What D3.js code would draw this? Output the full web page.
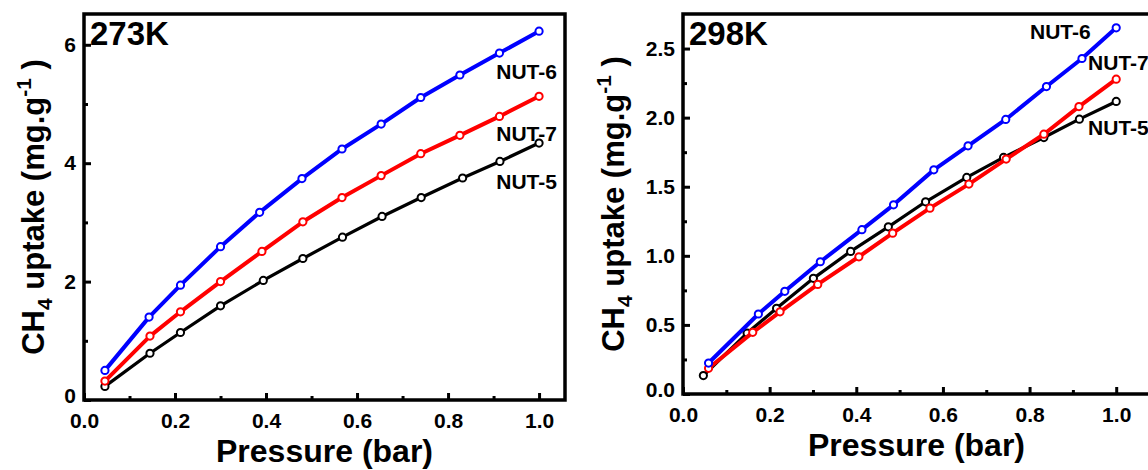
<!DOCTYPE html>
<html>
<head>
<meta charset="utf-8">
<script src="https://cdn.jsdelivr.net/npm/d3@7"></script>
<style>
  body { margin: 0; background: #fff; }
  text { font-family: "Liberation Sans", Arial, sans-serif; font-weight: bold; fill: #000; }
</style>
</head>
<body>
<script>
// 273K isotherms
var p273_nut6 = [0.046, 0.143, 0.212, 0.300, 0.386, 0.479, 0.567, 0.653, 0.740, 0.826, 0.913, 1.0]
var u273_nut6 = [0.50, 1.40, 1.94, 2.59, 3.17, 3.74, 4.24, 4.66, 5.11, 5.49, 5.86, 6.23]
var p273_nut7 = [0.046, 0.145, 0.212, 0.300, 0.391, 0.481, 0.567, 0.653, 0.740, 0.826, 0.913, 1.0]
var u273_nut7 = [0.32, 1.08, 1.49, 2.00, 2.51, 3.01, 3.42, 3.79, 4.16, 4.47, 4.79, 5.13]
var p273_nut5 = [0.046, 0.145, 0.212, 0.300, 0.394, 0.481, 0.568, 0.655, 0.741, 0.832, 0.914, 1.0]
var u273_nut5 = [0.23, 0.79, 1.14, 1.59, 2.02, 2.39, 2.75, 3.10, 3.42, 3.75, 4.03, 4.34]

// 298K isotherms
var p298_nut6 = [0.059, 0.174, 0.235, 0.317, 0.413, 0.486, 0.579, 0.658, 0.745, 0.839, 0.921, 1.0]
var u298_nut6 = [0.224, 0.579, 0.743, 0.957, 1.189, 1.369, 1.622, 1.796, 1.987, 2.225, 2.428, 2.65]
var p298_nut7 = [0.059, 0.161, 0.224, 0.311, 0.406, 0.484, 0.570, 0.660, 0.746, 0.833, 0.914, 1.0]
var u298_nut7 = [0.186, 0.446, 0.595, 0.793, 0.993, 1.164, 1.345, 1.519, 1.700, 1.880, 2.080, 2.278]
var p298_nut5 = [0.047, 0.148, 0.216, 0.301, 0.387, 0.474, 0.560, 0.655, 0.740, 0.833, 0.915, 1.0]
var u298_nut5 = [0.133, 0.441, 0.620, 0.837, 1.032, 1.210, 1.391, 1.567, 1.712, 1.856, 1.989, 2.117]

var seriesNames = ["NUT-5", "NUT-7", "NUT-6"]
var seriesColors = {"NUT-5": "#000000", "NUT-7": "#ff0000", "NUT-6": "#0000ff"}

var xTicks = [0, 0.2, 0.4, 0.6, 0.8, 1.0]
var xMinor = [0.1, 0.3, 0.5, 0.7, 0.9]
var yTicks273 = [0, 2, 4, 6]
var yMinor273 = [1, 3, 5]
var yTicks298 = [0, 0.5, 1.0, 1.5, 2.0, 2.5]
var yMinor298 = [0.25, 0.75, 1.25, 1.75, 2.25]

function zip (xs, ys) {
  return xs.map((x, i) => ({p: x, u: ys[i]}))
}

var panels = [
  {
    title: "273K",
    left: 84, right: 565, top: 14, bottom: 400,
    xMax: 1.057, yMax: 6.52,
    yTicks: yTicks273, yMinor: yMinor273, yFormat: d3.format("d"),
    titleX: 32,
    series: {
      "NUT-5": zip(p273_nut5, u273_nut5),
      "NUT-7": zip(p273_nut7, u273_nut7),
      "NUT-6": zip(p273_nut6, u273_nut6)
    },
    labels: [
      {name: "NUT-6", p: 0.906, u: 5.43},
      {name: "NUT-7", p: 0.906, u: 4.38},
      {name: "NUT-5", p: 0.906, u: 3.56}
    ]
  },
  {
    title: "298K",
    left: 683, right: 1150, top: 14, bottom: 394,
    xMax: 1.078, yMax: 2.75,
    yTicks: yTicks298, yMinor: yMinor298, yFormat: d3.format(".1f"),
    titleX: 612,
    series: {
      "NUT-5": zip(p298_nut5, u298_nut5),
      "NUT-7": zip(p298_nut7, u298_nut7),
      "NUT-6": zip(p298_nut6, u298_nut6)
    },
    labels: [
      {name: "NUT-6", p: 0.801, u: 2.57},
      {name: "NUT-7", p: 0.935, u: 2.344},
      {name: "NUT-5", p: 0.935, u: 1.873}
    ]
  }
]

var svg = d3.select("body")
            .append("svg")
            .attr("width", 1148)
            .attr("height", 470)

panels.forEach(drawPanel)

function drawPanel (cfg) {
  var x = d3.scaleLinear().domain([0, cfg.xMax]).range([cfg.left, cfg.right])
  var y = d3.scaleLinear().domain([0, cfg.yMax]).range([cfg.bottom, cfg.top])
  var g = svg.append("g")

  // minor ticks
  g.append("g")
   .attr("transform", "translate(0," + cfg.bottom + ")")
   .call(d3.axisBottom(x).tickValues(xMinor).tickSize(-4).tickFormat(""))
  g.append("g")
   .attr("transform", "translate(" + cfg.left + ",0)")
   .call(d3.axisLeft(y).tickValues(cfg.yMinor).tickSize(-4).tickFormat(""))

  // major ticks
  g.append("g")
   .attr("class", "xaxis")
   .attr("transform", "translate(0," + cfg.bottom + ")")
   .call(d3.axisBottom(x).tickValues(xTicks).tickSize(-7).tickPadding(13).tickFormat(d3.format(".1f")))
  g.append("g")
   .attr("class", "yaxis")
   .attr("transform", "translate(" + cfg.left + ",0)")
   .call(d3.axisLeft(y).tickValues(cfg.yTicks).tickSize(-7).tickPadding(8).tickFormat(cfg.yFormat))

  g.selectAll(".domain").remove()
  g.selectAll(".tick line").attr("stroke", "#000").attr("stroke-width", 3)
  g.selectAll(".tick text")
   .style("font-family", "'Liberation Sans', Arial, sans-serif")
   .style("font-weight", "bold")
   .style("font-size", "21px")
   .attr("fill", "#000")
  // nudge the zero label up so it clears the x labels
  g.selectAll(".yaxis .tick text").filter(d => d === 0).attr("dy", "0.1em")

  // frame
  g.append("rect")
   .attr("x", cfg.left)
   .attr("y", cfg.top)
   .attr("width", cfg.right - cfg.left)
   .attr("height", cfg.bottom - cfg.top)
   .attr("fill", "none")
   .attr("stroke", "#000")
   .attr("stroke-width", 3.5)

  var line = d3.line().x(d => x(d.p)).y(d => y(d.u))

  seriesNames.forEach(function (name) {
    var data = cfg.series[name]
    var color = seriesColors[name]
    g.append("path")
     .datum(data)
     .attr("d", line)
     .attr("fill", "none")
     .attr("stroke", color)
     .attr("stroke-width", name === "NUT-5" ? 3.2 : 4)
     .attr("stroke-linejoin", "round")
    g.selectAll(".pt-" + name)
     .data(data)
     .enter()
     .append("circle")
     .attr("class", "pt-" + name)
     .attr("cx", d => x(d.p))
     .attr("cy", d => y(d.u))
     .attr("r", 3.6)
     .attr("fill", "#fff")
     .attr("stroke", color)
     .attr("stroke-width", 2)
  })

  g.selectAll(".lab")
   .data(cfg.labels)
   .enter()
   .append("text")
   .attr("class", "lab")
   .attr("x", d => x(d.p))
   .attr("y", d => y(d.u))
   .style("font-size", "21px")
   .text(d => d.name)

  g.append("text")
   .attr("x", cfg.left + 6)
   .attr("y", 45)
   .style("font-size", "33px")
   .text(cfg.title)

  g.append("text")
   .attr("x", (cfg.left + Math.min(cfg.right, 1150)) / 2)
   .attr("y", cfg.bottom + 62)
   .attr("text-anchor", "middle")
   .style("font-size", "32px")
   .text("Pressure (bar)")

  var yt = g.append("text")
            .attr("transform", "translate(" + (cfg.titleX + 12) + "," + ((cfg.top + cfg.bottom) / 2) + ") rotate(-90)")
            .attr("text-anchor", "middle")
            .style("font-size", "31px")
  yt.append("tspan").text("CH")
  yt.append("tspan").attr("dy", 8).style("font-size", "21px").text("4")
  yt.append("tspan").attr("dy", -8).text(" uptake (mg.g")
  yt.append("tspan").attr("dy", -13).style("font-size", "21px").text("-1")
  yt.append("tspan").attr("dy", 13).text(" )")
}
</script>
</body>
</html>
